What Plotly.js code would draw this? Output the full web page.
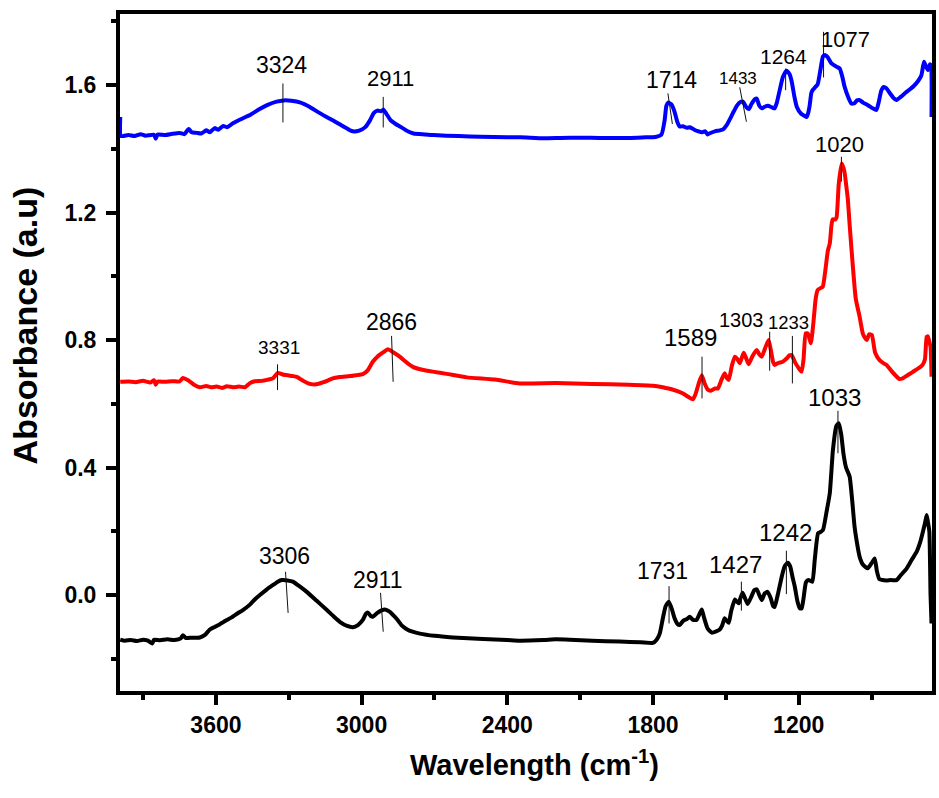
<!DOCTYPE html>
<html>
<head>
<meta charset="utf-8">
<script src="https://cdn.plot.ly/plotly-3.0.1.min.js"></script>
<style>
  html, body { margin: 0; padding: 0; background: #fff; }
  #chart { width: 939px; height: 798px; }
</style>
</head>
<body>
<div id="chart"></div>
<script>
// FTIR absorbance spectra, wavenumber (cm-1) vs absorbance (a.u.)

// Top spectrum (blue)
const blueWn = [3994, 3991, 3960, 3935, 3910, 3890, 3855, 3848, 3840, 3810, 3780, 3750, 3730, 3712, 3700,
  3680, 3660, 3640, 3625, 3605, 3590, 3570, 3555, 3530, 3500, 3456, 3420, 3387, 3350, 3321, 3290, 3251,
  3215, 3181, 3150, 3115, 3075, 3045, 3030, 3010, 2985, 2965, 2950, 2935, 2920, 2910, 2898, 2881, 2860,
  2840, 2810, 2786, 2740, 2704, 2600, 2511, 2400, 2347, 2250, 2182, 2100, 2018, 1900, 1830, 1790, 1765,
  1752, 1745, 1738, 1725, 1712, 1700, 1690, 1677, 1660, 1648, 1630, 1619, 1600, 1585, 1575, 1566, 1545,
  1525, 1510, 1496, 1480, 1471, 1455, 1440, 1430, 1415, 1405, 1395, 1380, 1373, 1362, 1352, 1340, 1327,
  1310, 1299, 1290, 1278, 1265, 1250, 1238, 1229, 1218, 1208, 1190, 1175, 1167, 1160, 1155, 1148, 1142,
  1130, 1122, 1110, 1100, 1090, 1081, 1065, 1045, 1031, 1020, 1011, 995, 983, 970, 960, 949, 935, 915,
  895, 880, 870, 860, 850, 839, 825, 810, 798, 780, 760, 743, 725, 709, 695, 684, 677, 668, 660, 655, 653];
const blueAbs = [1.500, 1.440, 1.443, 1.440, 1.446, 1.441, 1.444, 1.432, 1.445, 1.443, 1.447, 1.450, 1.446, 1.462, 1.452,
  1.450, 1.448, 1.458, 1.452, 1.465, 1.460, 1.472, 1.468, 1.480, 1.492, 1.508, 1.525, 1.538, 1.548, 1.552, 1.551, 1.545,
  1.532, 1.516, 1.502, 1.488, 1.470, 1.457, 1.454, 1.457, 1.468, 1.490, 1.512, 1.520, 1.518, 1.523, 1.510, 1.490, 1.478,
  1.469, 1.455, 1.448, 1.445, 1.443, 1.440, 1.438, 1.436, 1.436, 1.433, 1.434, 1.435, 1.434, 1.434, 1.436, 1.437, 1.445,
  1.490, 1.535, 1.545, 1.540, 1.518, 1.485, 1.470, 1.471, 1.466, 1.468, 1.460, 1.456, 1.452, 1.455, 1.445, 1.449, 1.455,
  1.458, 1.462, 1.475, 1.498, 1.512, 1.535, 1.547, 1.548, 1.530, 1.525, 1.540, 1.556, 1.558, 1.535, 1.527, 1.532, 1.535,
  1.530, 1.527, 1.545, 1.585, 1.625, 1.645, 1.635, 1.612, 1.565, 1.532, 1.510, 1.503, 1.500, 1.515, 1.535, 1.575, 1.585,
  1.595, 1.602, 1.650, 1.690, 1.694, 1.688, 1.668, 1.658, 1.652, 1.625, 1.595, 1.560, 1.542, 1.543, 1.552, 1.553, 1.545, 1.537,
  1.527, 1.522, 1.548, 1.582, 1.594, 1.590, 1.575, 1.560, 1.553, 1.563, 1.576, 1.586, 1.598, 1.612, 1.630, 1.673, 1.660, 1.647, 1.665, 1.660, 1.500];

// Middle spectrum (red)
const redWn = [3994, 3960, 3930, 3900, 3870, 3855, 3848, 3840, 3810, 3780, 3750, 3736, 3715, 3690, 3666,
  3640, 3620, 3597, 3575, 3555, 3530, 3505, 3480, 3460, 3440, 3410, 3390, 3365, 3345, 3325, 3300, 3283,
  3265, 3240, 3220, 3201, 3180, 3160, 3140, 3119, 3090, 3048, 3020, 2995, 2975, 2954, 2935, 2910, 2892,
  2870, 2843, 2815, 2789, 2750, 2707, 2650, 2567, 2450, 2349, 2200, 2050, 1900, 1800, 1760, 1720, 1678,
  1655, 1636, 1625, 1610, 1599, 1588, 1575, 1562, 1545, 1533, 1518, 1505, 1495, 1488, 1475, 1463, 1452,
  1443, 1434, 1426, 1415, 1406, 1390, 1373, 1362, 1352, 1338, 1324, 1315, 1305, 1299, 1285, 1266, 1250,
  1238, 1229, 1215, 1200, 1188, 1180, 1171, 1162, 1150, 1140, 1130, 1122, 1110, 1101, 1090, 1080, 1072,
  1065, 1060, 1050, 1044, 1035, 1023, 1012, 1005, 998, 990, 978, 965, 949, 935, 920, 910, 899, 885, 867,
  850, 838, 820, 800, 785, 772, 755, 740, 725, 714, 700, 690, 680, 673, 668, 662, 657, 653];
const redAbs = [0.669, 0.670, 0.668, 0.672, 0.667, 0.674, 0.660, 0.670, 0.669, 0.671, 0.670, 0.681, 0.674, 0.660, 0.652,
  0.656, 0.652, 0.654, 0.650, 0.655, 0.652, 0.654, 0.652, 0.665, 0.671, 0.672, 0.675, 0.680, 0.697, 0.692, 0.689, 0.687,
  0.684, 0.672, 0.664, 0.661, 0.662, 0.667, 0.673, 0.680, 0.684, 0.687, 0.690, 0.693, 0.705, 0.732, 0.748, 0.762, 0.771,
  0.762, 0.748, 0.730, 0.716, 0.707, 0.701, 0.694, 0.683, 0.676, 0.664, 0.665, 0.662, 0.660, 0.657, 0.652, 0.645, 0.633,
  0.622, 0.614, 0.630, 0.668, 0.690, 0.665, 0.645, 0.641, 0.648, 0.648, 0.675, 0.696, 0.680, 0.675, 0.720, 0.748, 0.740,
  0.727, 0.745, 0.760, 0.740, 0.724, 0.750, 0.769, 0.755, 0.748, 0.775, 0.800, 0.770, 0.730, 0.722, 0.728, 0.732, 0.742,
  0.752, 0.753, 0.730, 0.712, 0.701, 0.740, 0.821, 0.820, 0.790, 0.850, 0.930, 0.957, 0.963, 0.967, 1.020, 1.080, 1.103,
  1.160, 1.179, 1.178, 1.185, 1.290, 1.354, 1.330, 1.290, 1.245, 1.160, 1.041, 0.930, 0.873, 0.818, 0.800, 0.818, 0.816, 0.760, 0.737,
  0.727, 0.722, 0.705, 0.688, 0.678, 0.680, 0.688, 0.695, 0.703, 0.708, 0.715, 0.722, 0.740, 0.810, 0.812, 0.795, 0.779, 0.685];

// Bottom spectrum (black)
const blackWn = [3994, 3975, 3950, 3925, 3900, 3880, 3862, 3855, 3830, 3800, 3770, 3745, 3736, 3725, 3700,
  3666, 3645, 3625, 3605, 3585, 3570, 3555, 3535, 3510, 3489, 3460, 3440, 3419, 3390, 3366, 3345, 3329,
  3305, 3283, 3255, 3226, 3185, 3143, 3115, 3090, 3060, 3036, 3015, 2995, 2982, 2974, 2962, 2954, 2935,
  2918, 2904, 2885, 2870, 2855, 2835, 2814, 2790, 2760, 2700, 2624, 2500, 2400, 2349, 2250, 2200, 2143,
  2050, 1937, 1850, 1801, 1785, 1772, 1760, 1748, 1735, 1722, 1711, 1700, 1690, 1675, 1660, 1649, 1635,
  1620, 1610, 1599, 1590, 1575, 1558, 1540, 1525, 1515, 1505, 1495, 1488, 1478, 1463, 1455, 1447, 1440,
  1431, 1420, 1410, 1395, 1383, 1373, 1362, 1352, 1340, 1328, 1315, 1305, 1299, 1285, 1270, 1258, 1245,
  1235, 1225, 1216, 1205, 1195, 1188, 1180, 1170, 1160, 1144, 1134, 1120, 1110, 1100, 1086, 1072, 1059,
  1045, 1035, 1025, 1015, 1005, 998, 990, 980, 970, 962, 949, 935, 916, 900, 887, 878, 868, 855, 840,
  820, 797, 780, 755, 735, 714, 700, 690, 680, 673, 668, 662, 657, 653];
const blackAbs = [-0.140, -0.143, -0.141, -0.144, -0.140, -0.143, -0.152, -0.140, -0.142, -0.139, -0.141, -0.136, -0.126, -0.134, -0.134,
  -0.133, -0.125, -0.108, -0.100, -0.092, -0.085, -0.078, -0.070, -0.057, -0.047, -0.030, -0.014, 0.000, 0.018, 0.031, 0.042, 0.047,
  0.046, 0.042, 0.027, 0.010, -0.018, -0.047, -0.067, -0.084, -0.097, -0.101, -0.094, -0.078, -0.058, -0.055, -0.066, -0.068, -0.056,
  -0.048, -0.045, -0.052, -0.063, -0.075, -0.095, -0.107, -0.115, -0.121, -0.128, -0.133, -0.138, -0.141, -0.143, -0.141, -0.139, -0.140,
  -0.143, -0.146, -0.148, -0.150, -0.140, -0.120, -0.075, -0.035, -0.021, -0.045, -0.073, -0.090, -0.094, -0.080, -0.075, -0.068, -0.078,
  -0.078, -0.062, -0.045, -0.070, -0.105, -0.118, -0.114, -0.108, -0.095, -0.073, -0.082, -0.087, -0.050, -0.014, -0.020, -0.026, -0.010,
  0.007, -0.012, -0.028, -0.005, 0.015, 0.018, 0.000, -0.016, 0.005, 0.010, -0.010, -0.035, -0.037, 0.005, 0.057, 0.090, 0.101,
  0.090, 0.055, 0.026, -0.020, -0.042, -0.042, -0.010, 0.040, 0.047, 0.042, 0.110, 0.194, 0.198, 0.204, 0.258, 0.319, 0.455,
  0.530, 0.539, 0.505, 0.440, 0.400, 0.387, 0.371, 0.300, 0.215, 0.173, 0.120, 0.095, 0.084, 0.100, 0.115, 0.075, 0.050, 0.047, 0.046,
  0.047, 0.047, 0.062, 0.084, 0.110, 0.136, 0.165, 0.194, 0.225, 0.251, 0.230, 0.200, 0.000, -0.089];

// Peak labels: wavenumber shown in each label
const peakLabels = ['3324', '2911', '1714', '1433', '1264', '1077',
                    '3331', '2866', '1589', '1303', '1233', '1020',
                    '3306', '2911', '1731', '1427', '1242', '1033'];
const peakWn = [3324, 2911, 1714, 1433, 1264, 1077,
                3331, 2866, 1589, 1303, 1233, 1020,
                3306, 2911, 1731, 1427, 1242, 1033];

// Leader-line extent (absorbance) and label placement, one entry per peak label
const peakStyle = [
  {top: 1.605, bot: 1.483, dxT: 0,    dxB: 0,   tx: -1,  ty: 18,  size: 23},
  {top: 1.563, bot: 1.467, dxT: 0,    dxB: 0,   tx: 7,   ty: 18,  size: 22},
  {top: 1.574, bot: 1.478, dxT: -6,   dxB: -1.5,tx: -2,  ty: 13,  size: 23},
  {top: 1.593, bot: 1.485, dxT: -2.4, dxB: 4.3, tx: -4,  ty: 8.5, size: 17},
  {top: 1.652, bot: 1.584, dxT: 2.5,  dxB: 2.5, tx: 0.5, ty: 11.6,size: 21},
  {top: 1.767, bot: 1.624, dxT: -5,   dxB: -5,  tx: 17,  ty: -7.8,size: 22},
  {top: 0.724, bot: 0.643, dxT: -3.7, dxB: -3.7,tx: -2.4,ty: 16.8,size: 19},
  {top: 0.813, bot: 0.669, dxT: -2.6, dxB: -1,  tx: -2.3,ty: 13.7,size: 23},
  {top: 0.748, bot: 0.617, dxT: -2.2, dxB: -2.2,tx: -13.5,ty: 18.7,size: 24},
  {top: 0.826, bot: 0.704, dxT: -4,   dxB: -4,  tx: -31.7,ty: 12, size: 20},
  {top: 0.813, bot: 0.664, dxT: 1.7,  dxB: 1.7, tx: -1.7,ty: 13.8,size: 18.5},
  {top: 1.375, bot: 1.297, dxT: -1,   dxB: -1,  tx: -3.4,ty: 12.4,size: 22},
  {top: 0.073, bot: -0.056,dxT: -1.8, dxB: 0.8, tx: -2.5,ty: 16,  size: 23},
  {top: 0.007, bot: -0.115,dxT: -2.7, dxB: 0,   tx: -5.7,ty: 12.7,size: 23},
  {top: 0.028, bot: -0.089,dxT: -0.7, dxB: -0.7,tx: -7.3,ty: 15,  size: 23},
  {top: 0.042, bot: -0.049,dxT: -2.2, dxB: -2.2,tx: -7.9,ty: 17,  size: 24},
  {top: 0.139, bot: 0.003, dxT: -2.1, dxB: -2.1,tx: -2.8,ty: 17.9,size: 24},
  {top: 0.578, bot: 0.445, dxT: -1.3, dxB: -1.3,tx: -4.6,ty: 13.2,size: 24}
];

const SANS = 'Liberation Sans, Arial, Helvetica, sans-serif';

function spectrum(x, y, color) {
  return {
    x: x, y: y, type: 'scatter', mode: 'lines',
    line: {color: color, width: 4, shape: 'spline', smoothing: 0.5},
    hoverinfo: 'x+y'
  };
}

const traces = [
  spectrum(blackWn, blackAbs, '#000000'),
  spectrum(redWn, redAbs, '#ff0000'),
  spectrum(blueWn, blueAbs, '#0000ff')
];

const shapes = peakWn.map((wn, i) => ({
  type: 'line', xref: 'x', yref: 'y',
  xsizemode: 'pixel', xanchor: wn,
  x0: peakStyle[i].dxT, x1: peakStyle[i].dxB,
  y0: peakStyle[i].top, y1: peakStyle[i].bot,
  line: {color: '#111', width: 1}
}));

const annotations = peakWn.map((wn, i) => ({
  x: wn, y: peakStyle[i].top, xref: 'x', yref: 'y',
  text: peakLabels[i], showarrow: false,
  xanchor: 'center', yanchor: 'middle',
  xshift: peakStyle[i].tx, yshift: peakStyle[i].ty,
  font: {family: SANS, size: peakStyle[i].size, color: '#000'}
}));

// Axis titles, placed as free text so they can sit slightly off-centre
annotations.push({
  text: 'Absorbance (a.u)', textangle: -90, showarrow: false,
  xref: 'paper', yref: 'paper', x: -0.117, y: 0.54,
  xanchor: 'center', yanchor: 'middle',
  font: {family: SANS, size: 34, color: '#000', weight: 'bold'}
});
annotations.push({
  text: 'Wavelength (cm<sup>-1</sup>)', showarrow: false,
  xref: 'paper', yref: 'paper', x: 0.511, y: -0.106,
  xanchor: 'center', yanchor: 'middle',
  font: {family: SANS, size: 29, color: '#000', weight: 'bold'}
});

const tickFont = {family: SANS, size: 23, color: '#000', weight: 'bold'};

const layout = {
  width: 939, height: 798,
  margin: {l: 120, r: 7, t: 14, b: 107},
  paper_bgcolor: '#fff', plot_bgcolor: '#fff',
  showlegend: false,
  xaxis: {
    range: [3995, 651], autorange: false,
    tick0: 0, dtick: 600,
    ticks: 'outside', ticklen: 10, tickwidth: 4, tickcolor: '#000',
    showline: true, linewidth: 4, linecolor: '#000', mirror: true,
    showgrid: false, zeroline: false,
    tickfont: tickFont,
    minor: {tick0: 0, dtick: 300, ticks: 'outside', ticklen: 5, tickwidth: 4, tickcolor: '#000', showgrid: false}
  },
  yaxis: {
    range: [-0.301, 1.823], autorange: false,
    tick0: 0, dtick: 0.4, tickformat: '.1f',
    ticks: 'outside', ticklen: 10, tickwidth: 4, tickcolor: '#000',
    ticklabelstandoff: 5,
    showline: true, linewidth: 4, linecolor: '#000', mirror: true,
    showgrid: false, zeroline: false,
    tickfont: tickFont,
    minor: {tick0: 0, dtick: 0.2, ticks: 'outside', ticklen: 5, tickwidth: 4, tickcolor: '#000', showgrid: false}
  },
  shapes: shapes,
  annotations: annotations
};

Plotly.newPlot('chart', traces, layout, {displayModeBar: false, staticPlot: true});
</script>
</body>
</html>
